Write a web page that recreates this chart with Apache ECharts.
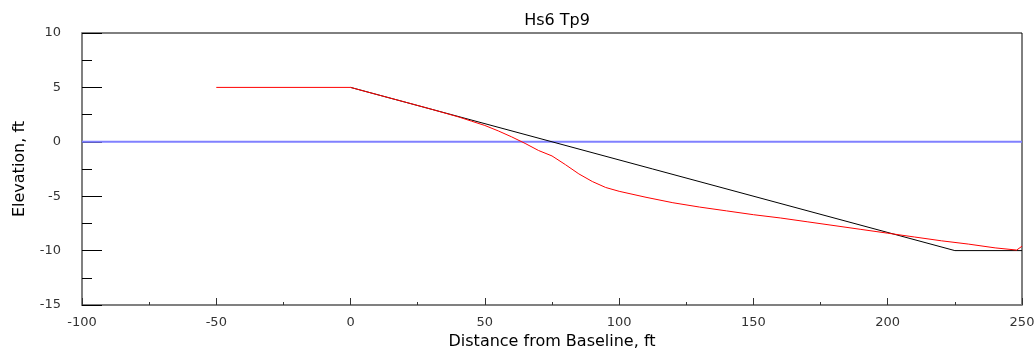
<!DOCTYPE html>
<html>
<head>
    <meta charset="utf-8"/>
    <title>Hs6 Tp9</title>
    <script src="https://cdn.jsdelivr.net/npm/echarts@6/dist/echarts.min.js"></script>
    <style>
        html, body { margin: 0; padding: 0; background: #fff; }
        #main { width: 1035px; height: 349px; }
    </style>
</head>
<body>
<div id="main"></div>
<script>
    // 初始剖面 (黑线)
    var initialX = [0, 225, 250];
    var initialY = [5, -10, -10];

    // 最终剖面 (红线)
    var finalX = [-50, 0, 10, 20, 30, 40, 45, 50, 55, 60, 65, 70, 75, 80, 85, 90, 95, 100,
        110, 120, 130, 140, 150, 160, 170, 180, 190, 200, 210, 220, 230, 240, 248, 250];
    var finalY = [5, 5, 4.33, 3.67, 3.0, 2.3, 1.9, 1.5, 1.0, 0.45, -0.15, -0.8, -1.3, -2.1, -2.95, -3.65, -4.2, -4.55,
        -5.1, -5.6, -6.0, -6.35, -6.7, -7.0, -7.35, -7.7, -8.05, -8.4, -8.75, -9.1, -9.4, -9.75, -9.95, -9.6];

    // 静水位 (蓝线)
    var waterX = [-100, 250];
    var waterY = [0, 0];

    function pairs(xs, ys) {
        var out = [];
        for (var i = 0; i < xs.length; i++) {
            out.push([xs[i], ys[i]]);
        }
        return out;
    }

    var font = 'DejaVu Sans, sans-serif';
    var myChart = echarts.init(document.getElementById('main'));
    var option = {
        animation: false,
        title: {
            text: 'Hs6 Tp9',
            left: 552,
            textAlign: 'center',
            top: 8,
            textStyle: {color: '#000', fontSize: 16, fontWeight: 'normal', fontFamily: font}
        },
        grid: {
            left: 82,
            right: 13,
            top: 33,
            bottom: 44,
            outerBoundsMode: 'none',
            containLabel: false,
            show: true,
            borderColor: '#000',
            borderWidth: 1
        },
        xAxis: {
            type: 'value',
            min: -100,
            max: 250,
            interval: 50,
            name: 'Distance from Baseline, ft',
            nameLocation: 'middle',
            nameGap: 29,
            nameTextStyle: {color: '#000', fontSize: 16, fontWeight: 'normal', fontFamily: font},
            axisLine: {show: true, onZero: false, lineStyle: {color: '#808080', width: 2}},
            axisTick: {show: true, inside: true, length: 7, lineStyle: {color: '#333'}},
            minorTick: {show: true, splitNumber: 2, length: 3, lineStyle: {color: '#333'}},
            axisLabel: {color: '#333', fontSize: 13, margin: 11, fontFamily: font},
            splitLine: {show: false}
        },
        yAxis: {
            type: 'value',
            min: -15,
            max: 10,
            interval: 5,
            name: 'Elevation, ft',
            nameLocation: 'middle',
            nameGap: 54,
            nameTextStyle: {color: '#000', fontSize: 16, fontWeight: 'normal', fontFamily: font},
            axisLine: {show: true, onZero: false, lineStyle: {color: '#808080', width: 2}},
            axisTick: {show: true, inside: true, length: 20, lineStyle: {color: '#000'}},
            minorTick: {show: true, splitNumber: 2, length: 10, lineStyle: {color: '#000'}},
            axisLabel: {color: '#333', fontSize: 13, margin: 21, fontFamily: font},
            splitLine: {show: false}
        },
        series: [
            {
                name: 'Water level',
                type: 'line',
                showSymbol: false,
                data: pairs(waterX, waterY),
                lineStyle: {color: '#8080ff', width: 2}
            },
            {
                name: 'Initial',
                type: 'line',
                showSymbol: false,
                data: pairs(initialX, initialY),
                lineStyle: {color: '#000', width: 1}
            },
            {
                name: 'Final',
                type: 'line',
                showSymbol: false,
                data: pairs(finalX, finalY),
                lineStyle: {color: '#ff0000', width: 1}
            }
        ]
    };
    myChart.setOption(option);
</script>
</body>
</html>
